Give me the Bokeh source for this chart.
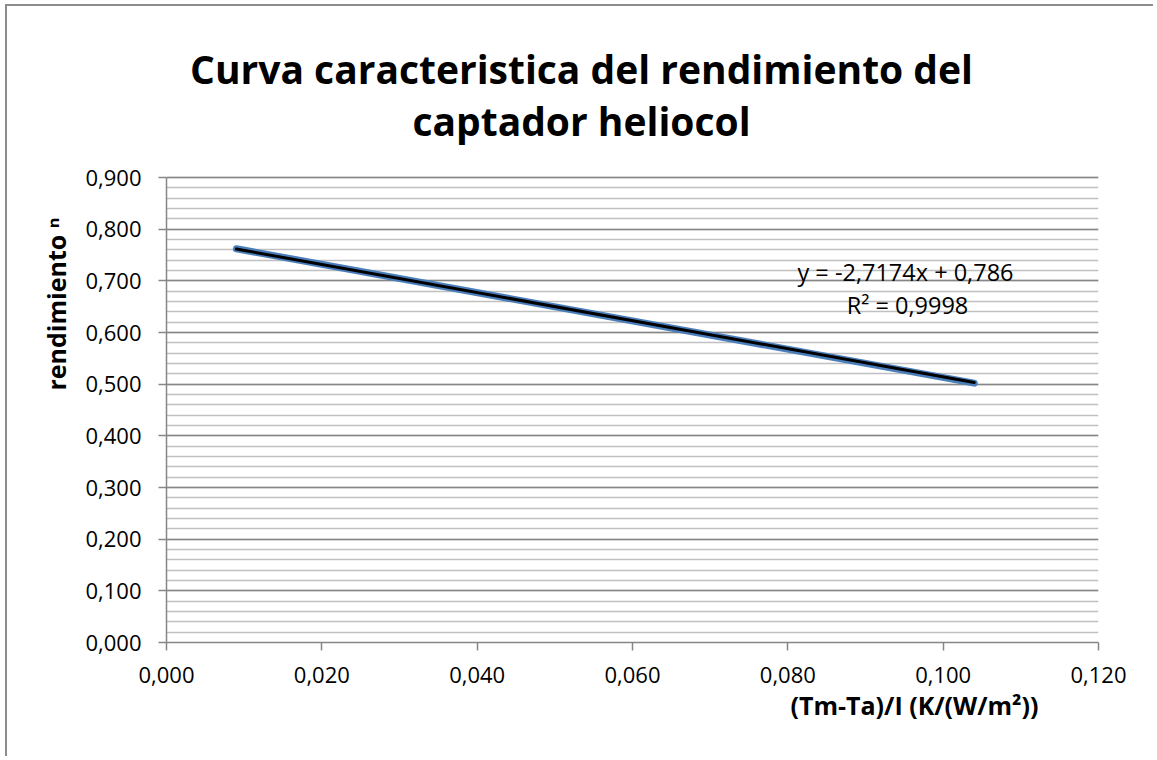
from bokeh.plotting import figure
from bokeh.models import Range1d, FixedTicker, CustomJSTickFormatter, Label, ColumnDataSource, Title
from bokeh.embed import file_html
from bokeh.resources import INLINE

# ---- data ----
title_lines = ["Curva caracteristica del rendimiento del", "captador heliocol"]
x_label = "(Tm-Ta)/I (K/(W/m²))"
y_label = "rendimiento ⁿ"
series_x = [0.009, 0.104]
series_y = [0.762, 0.502]
trend_slope = -2.7174
trend_intercept = 0.786
trend_r2 = "0,9998"
x_ticks = [0.0, 0.02, 0.04, 0.06, 0.08, 0.10, 0.12]
y_ticks = [0.0, 0.1, 0.2, 0.3, 0.4, 0.5, 0.6, 0.7, 0.8, 0.9]
y_minor = [round(i * 0.02, 2) for i in range(46)]

FONT = "Open Sans"
GRID_MAJOR = "#868686"
GRID_MINOR = "#c0c0c0"

# frame spans from the canvas top (title area) down to the x axis;
# the value axis itself is bounded to 0..0.9
PLOT_H = 465      # pixels for 0..0.9
FRAME_H = 636
y_top = 0.9 * FRAME_H / PLOT_H

p = figure(width=1148, height=752, x_range=Range1d(0, 0.12), y_range=Range1d(0, y_top),
           output_backend="svg", toolbar_location=None, title_location=None,
           min_border_left=159, min_border_right=57, min_border_top=0, min_border_bottom=116)
p.styles = {"border-left": "2px solid #8c8c8c", "border-top": "2px solid #8c8c8c",
            "margin-left": "5px", "margin-top": "4px"}
p.outline_line_color = None
p.background_fill_color = "white"
p.border_fill_color = "white"

fmt = CustomJSTickFormatter(code="return tick.toFixed(3).replace('.', ',');")

# axes
for ax in (p.xaxis[0], p.yaxis[0]):
    ax.formatter = fmt
    ax.axis_line_color = GRID_MAJOR
    ax.axis_line_width = 1.5
    ax.major_tick_line_color = GRID_MAJOR
    ax.major_tick_line_width = 1.5
    ax.major_tick_out = 8
    ax.major_tick_in = 0
    ax.minor_tick_out = 0
    ax.minor_tick_in = 0
    ax.major_label_text_font = FONT
    ax.major_label_text_font_size = "22px"
    ax.major_label_text_color = "black"
p.xaxis[0].ticker = FixedTicker(ticks=x_ticks)
p.yaxis[0].ticker = FixedTicker(ticks=y_ticks)
p.yaxis[0].bounds = (y_ticks[0], y_ticks[-1])
p.xaxis[0].major_label_standoff = 16
p.yaxis[0].major_label_standoff = 17

# grid
p.xgrid.visible = False
p.ygrid.ticker = FixedTicker(ticks=y_ticks, minor_ticks=y_minor)
p.ygrid.grid_line_color = GRID_MAJOR
p.ygrid.grid_line_width = 1.5
p.ygrid.minor_grid_line_color = GRID_MINOR
p.ygrid.minor_grid_line_width = 1.5

# series + trendline
src = ColumnDataSource(dict(x=series_x, y=series_y))
p.line("x", "y", source=src, line_color="#4a7ebb", line_width=7, line_cap="round")
tx = [min(series_x), max(series_x)]
ty = [trend_slope * v + trend_intercept for v in tx]
p.line(tx, ty, line_color="black", line_width=3, line_cap="round")

def fmt_num(v, nd):
    return f"{v:.{nd}f}".replace(".", ",")

eq = f"y = {fmt_num(trend_slope, 4)}x + {fmt_num(trend_intercept, 3)}"
p.add_layout(Label(x=739, y=371, x_units="screen", y_units="screen", text=eq,
                   text_font=FONT, text_font_size="23.5px", text_align="center",
                   text_baseline="middle", text_color="black"))
p.add_layout(Label(x=741, y=338, x_units="screen", y_units="screen", text=f"R² = {trend_r2}",
                   text_font=FONT, text_font_size="23.5px", text_align="center",
                   text_baseline="middle", text_color="black"))

# chart title (inside the tall frame, above the value area)
p.add_layout(Label(x=415, y=574, x_units="screen", y_units="screen", text=title_lines[0],
                   text_font=FONT, text_font_size="39px", text_font_style="bold",
                   text_align="center", text_baseline="alphabetic", text_color="black"))
p.add_layout(Label(x=415, y=522, x_units="screen", y_units="screen", text=title_lines[1],
                   text_font=FONT, text_font_size="39px", text_font_style="bold",
                   text_align="center", text_baseline="alphabetic", text_color="black"))

# axis titles
p.add_layout(Title(text=x_label, align="left", offset=624, standoff=0,
                   text_font=FONT, text_font_size="25px", text_font_style="bold",
                   text_color="black"), "below")
p.add_layout(Title(text=y_label, align="left", offset=252, standoff=20,
                   text_font=FONT, text_font_size="25px", text_font_style="bold",
                   text_color="black"), "left")

open("out.html", "w").write(file_html(p, INLINE))
